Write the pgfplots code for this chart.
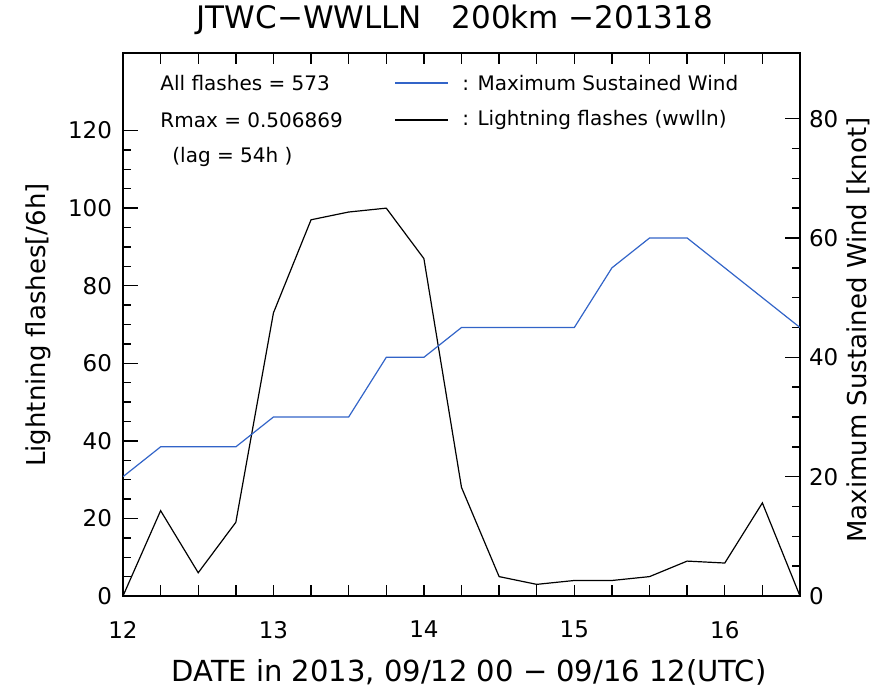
\documentclass[border=0pt]{standalone}
\usepackage{fontspec}
\setmainfont{DejaVu Sans}
\usepackage{pgfplots}
\pgfplotsset{compat=1.18}
\definecolor{windblue}{RGB}{50,100,200}

\pgfplotsset{
  idl/.style={
    scale only axis, width=338.5pt, height=271.5pt,
    at={(61.5pt,48.5pt)}, anchor=south west,
    xmin=12, xmax=16.5,
    axis line style={line width=0.8pt},
    every tick/.style={black, line width=0.7pt},
    tick align=inside,
    /pgf/number format/assume math mode=true,
    tick label style={font=\fontsize{11.5}{13}\selectfont},
  }
}

\begin{document}
\begin{tikzpicture}
\useasboundingbox (0,0) rectangle (437.5pt,346.5pt);

% lightning flashes, left axis
\begin{axis}[idl,
  ymin=0, ymax=140,
  xtick={12,13,14,15,16},
  minor xtick={12.25,12.5,12.75,13.25,13.5,13.75,14.25,14.5,14.75,15.25,15.5,15.75,16.25},
  xtick pos=both,
  major x tick style={/pgfplots/major tick length=5.5pt},
  minor x tick style={/pgfplots/minor tick length=5.5pt},
  ytick={0,20,...,120},
  minor y tick num=3,
  ytick pos=left,
  major y tick style={/pgfplots/major tick length=7.5pt},
  minor y tick style={/pgfplots/minor tick length=4pt},
  xticklabel style={yshift=-9pt},
  yticklabel style={xshift=-2pt},
]
\addplot[black, line width=0.6pt] coordinates {
  (12,0) (12.25,22) (12.5,6) (12.75,19) (13,73) (13.25,97) (13.5,99)
  (13.75,100) (14,87) (14.25,28) (14.5,5) (14.75,3) (15,4) (15.25,4)
  (15.5,5) (15.75,9) (16,8.5) (16.25,24) (16.5,0)
};
% key
\draw[windblue, line width=0.6pt] (rel axis cs:0.402,0.9448) -- (rel axis cs:0.480,0.9448);
\draw[black, line width=0.6pt] (rel axis cs:0.402,0.8766) -- (rel axis cs:0.480,0.8766);
\node[anchor=west, inner sep=0pt, font=\fontsize{10}{12}\selectfont] at (rel axis cs:0.0547,0.9448) {All flashes = 573};
\node[anchor=west, inner sep=0pt, font=\fontsize{10}{12}\selectfont] at (rel axis cs:0.0547,0.8766) {Rmax = 0.506869};
\node[anchor=west, inner sep=0pt, font=\fontsize{10}{12}\selectfont] at (rel axis cs:0.0724,0.8085) {(lag = 54h )};
\node[anchor=west, inner sep=0pt, font=\fontsize{10}{12}\selectfont] at (rel axis cs:0.5007,0.9448) {: Maximum Sustained Wind};
\node[anchor=west, inner sep=0pt, font=\fontsize{10}{12}\selectfont] at (rel axis cs:0.5007,0.8766) {: Lightning flashes (wwlln)};
\end{axis}

% maximum sustained wind, right axis
\begin{axis}[idl,
  ymin=0, ymax=91,
  hide x axis,
  axis y line*=right,
  ytick={0,20,...,80},
  minor y tick num=3,
  major y tick style={/pgfplots/major tick length=7.5pt},
  minor y tick style={/pgfplots/minor tick length=4pt},
  yticklabel style={xshift=1pt},
]
\addplot[windblue, line width=0.6pt] coordinates {
  (12,20) (12.25,25) (12.5,25) (12.75,25) (13,30) (13.25,30) (13.5,30)
  (13.75,40) (14,40) (14.25,45) (14.5,45) (14.75,45) (15,45) (15.25,55)
  (15.5,60) (15.75,60) (16,55) (16.25,50) (16.5,45)
};
\end{axis}

% titles and axis labels
\node[font=\fontsize{15.5}{18}\selectfont] at (227.5pt,336.5pt) {JTWC−WWLLN\ \ \ 200km −201318};
\node[font=\fontsize{14.5}{17}\selectfont] at (234.5pt,10.5pt) {DATE in 2013, 09/12 00 − 09/16 12(UTC)};
\node[rotate=90, font=\fontsize{13}{16}\selectfont] at (19pt,184pt) {Lightning flashes[/6h]};
\node[rotate=90, font=\fontsize{13}{16}\selectfont] at (429pt,181.5pt) {Maximum Sustained Wind [knot]};
\end{tikzpicture}
\end{document}
